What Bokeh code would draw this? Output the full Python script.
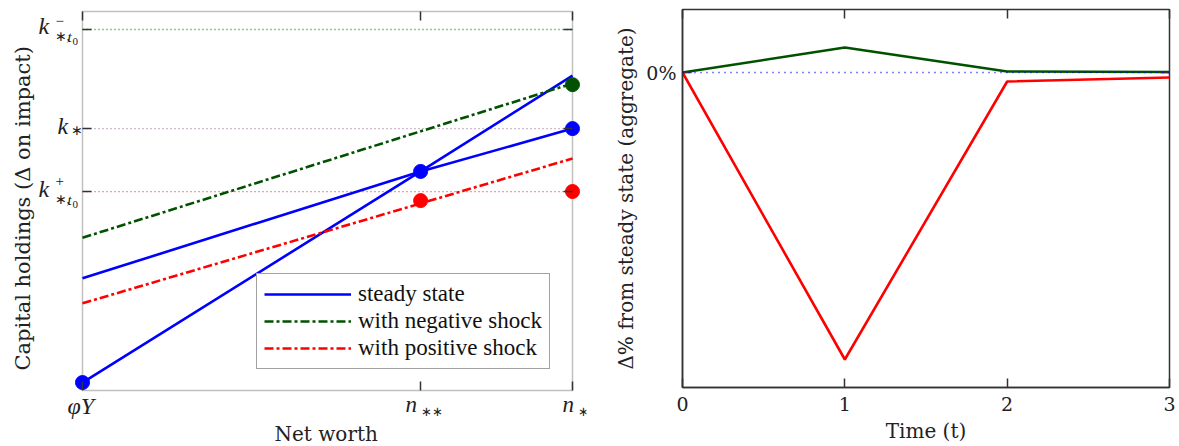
from bokeh.plotting import figure
from bokeh.models import (Range1d, FixedTicker, Legend, LegendItem, LinearAxis,
                          BoxAnnotation, ColumnDataSource, Title, Span)
from bokeh.core.properties import value
from bokeh.layouts import row
from bokeh.embed import file_html
from bokeh.resources import INLINE

# ---------------- data: left panel ----------------
nw_x = [0.0, 0.69, 1.0]                 # phiY, n**, n*
ss_steep = [0.021, 0.578, 0.831]
ss_flat = [0.296, 0.578, 0.691]
neg_x = [0.0, 1.0]
neg_y = [0.403, 0.810]
pos_x = [0.0, 1.0]
pos_y = [0.230, 0.612]
blue_dot_y = [0.021, 0.578, 0.691]
green_dot_x = [1.0]
green_dot_y = [0.807]
red_dot_x = [0.69, 1.0]
red_dot_y = [0.501, 0.525]
k_levels = [0.9525, 0.691, 0.525]       # k-_{*,t0}, k_*, k+_{*,t0}
k_level_colors = ["#2e8b2e", "#9a7a9a", "#ff3030"]

# ---------------- data: right panel ----------------
t = [0, 1, 2, 3]
agg_neg = [0.0, 2.5, 0.1, 0.05]
agg_pos = [0.0, -28.7, -0.9, -0.5]
t_ticks = [0, 1, 2, 3]

FONT = "Liberation Serif"
AFONT = "DejaVu Serif"
AX = "#333333"
TXT = "#222222"
BLUE = "#0000ff"
GREEN = "#005200"
RED = "#ff0000"

# pixel geometry of the left panel (layout only)
PXX, PXY = 490.0, 379.0
EXT_L, EXT_R, EXT_T, EXT_B = 48, 14, 2, 29


def tick_axis(ax, ticks, loc):
    ax.ticker = FixedTicker(ticks=ticks)
    ax.fixed_location = loc
    ax.axis_line_color = None
    ax.major_tick_line_color = AX
    ax.major_tick_line_width = 1.5
    ax.major_tick_in = 9
    ax.major_tick_out = 0
    ax.minor_tick_line_color = None
    ax.major_label_overrides = {v: "" for v in ticks}
    ax.major_label_text_font_size = "1px"
    ax.major_label_standoff = 0


# ================= left figure =================
p1 = figure(frame_width=int(PXX + EXT_L + EXT_R), frame_height=int(PXY + EXT_T + EXT_B),
            output_backend="svg", toolbar_location=None,
            x_range=Range1d(-EXT_L / PXX, 1 + EXT_R / PXX),
            y_range=Range1d(-EXT_B / PXY, 1 + EXT_T / PXY),
            min_border_left=34, min_border_right=4, min_border_top=7, min_border_bottom=28)
p1.outline_line_color = None
p1.grid.visible = False
tick_axis(p1.xaxis[0], nw_x, 0)
tick_axis(p1.yaxis[0], k_levels, 0)
ax_r = LinearAxis()
ax_t = LinearAxis()
tick_axis(ax_r, k_levels, 1)
tick_axis(ax_t, nw_x, 1)
p1.add_layout(ax_r, "right")
p1.add_layout(ax_t, "above")

p1.add_layout(BoxAnnotation(left=nw_x[0], right=nw_x[-1], bottom=0, top=1,
                            fill_alpha=0, line_color=AX, line_width=1.5, level="underlay"))

p1.segment(x0=[nw_x[0]] * 3, x1=[nw_x[-1]] * 3, y0=k_levels, y1=k_levels,
           line_color=k_level_colors, line_width=1.3, line_dash="1 3")

r_ss = p1.line(nw_x, ss_steep, line_color=BLUE, line_width=2.6)
p1.line(nw_x, ss_flat, line_color=BLUE, line_width=2.6)
r_neg = p1.line(neg_x, neg_y, line_color=GREEN, line_width=2.6, line_dash="9 3 3 3")
r_pos = p1.line(pos_x, pos_y, line_color=RED, line_width=2.6, line_dash="9 3 3 3")
p1.scatter(nw_x, blue_dot_y, size=14, color=BLUE)
p1.scatter(green_dot_x, green_dot_y, size=14, color=GREEN)
p1.scatter(red_dot_x, red_dot_y, size=14, color=RED)

legend = Legend(items=[LegendItem(label="steady state", renderers=[r_ss]),
                       LegendItem(label="with negative shock", renderers=[r_neg]),
                       LegendItem(label="with positive shock", renderers=[r_pos])],
                location=(222, 50), label_text_font=FONT, label_text_font_size="23px",
                label_text_color="#111111", glyph_width=87, glyph_height=22,
                label_height=22, spacing=1, padding=7, margin=0,
                border_line_color="#444444", border_line_width=1.2,
                label_standoff=7, background_fill_alpha=1)
p1.add_layout(legend, "center")

# tick labels made of text pieces (main symbol + sub/superscripts)
kx = [nw_x[0]] * 10
ky = [k_levels[0]] * 4 + [k_levels[1]] * 2 + [k_levels[2]] * 4
ktext = ["k", "\u2212", "\u2217,", "t", "k", "\u2217", "k", "+", "\u2217,", "t"]
kdx = [-44, -27, -28, -15, -25, -12, -44, -27, -28, -15]
kdy = [-4, -9, 7, 7, -3, 2, -3, -11, 8, 8]
ksize = ["24px", "15px", "14px", "15px", "24px", "14px", "24px", "15px", "14px", "15px"]
kstyle = ["italic", "normal", "normal", "italic", "italic", "normal", "italic", "normal", "normal", "italic"]
# t0 subscript zeros
zx = [nw_x[0]] * 2
zy = [k_levels[0], k_levels[2]]
ztext = ["0", "0"]
zdx = [-10, -10]
zdy = [12, 13]
zsize = ["11px", "11px"]
zstyle = ["normal", "normal"]

nx = [nw_x[0], nw_x[1], nw_x[1], nw_x[2], nw_x[2]]
ny = [0] * 5
ntext = ["\u03c6Y", "n", "\u2217\u2217", "n", "\u2217"]
ndx = [-15, -15, 0, -10, 5]
ndy = [15, 14, 21, 14, 21]
nsize = ["24px", "23px", "13px", "23px", "13px"]
nstyle = ["italic", "italic", "normal", "italic", "normal"]

lab = ColumnDataSource(dict(x=kx + zx + nx, y=ky + zy + ny, text=ktext + ztext + ntext,
                            dx=kdx + zdx + ndx, dy=kdy + zdy + ndy,
                            size=ksize + zsize + nsize, style=kstyle + zstyle + nstyle))
p1.text(x="x", y="y", text="text", x_offset="dx", y_offset="dy", source=lab,
        text_font=value(FONT), text_font_size="size", text_font_style="style",
        text_color=TXT, text_align="left", text_baseline="middle")

p1.add_layout(Title(text="Capital holdings (\u0394 on impact)", align="left", offset=49,
                    standoff=0, text_font=AFONT, text_font_size="21px",
                    text_font_style="normal", text_color=TXT), "left")
p1.add_layout(Title(text="Net worth", align="left", offset=240, standoff=0,
                    text_font=AFONT, text_font_size="20px", text_font_style="normal",
                    text_color=TXT), "below")

# ================= right figure =================
p2 = figure(frame_width=487, frame_height=378, output_backend="svg", toolbar_location=None,
            x_range=Range1d(0, 3), y_range=Range1d(-31.5, 6.3),
            min_border_left=92, min_border_right=8, min_border_top=9, min_border_bottom=58)
p2.outline_line_color = AX
p2.outline_line_width = 1.5
p2.grid.visible = False
p2.xaxis.ticker = FixedTicker(ticks=t_ticks)
p2.yaxis.ticker = FixedTicker(ticks=[0])
p2.yaxis.major_label_overrides = {0: "0%"}
p2.xaxis.axis_label = "Time (t)"
p2.yaxis.axis_label = "\u0394% from steady state (aggregate)"
for ax in p2.axis:
    ax.axis_line_color = AX
    ax.axis_line_width = 1.5
    ax.major_tick_line_color = AX
    ax.major_tick_line_width = 1.5
    ax.major_tick_in = 9
    ax.major_tick_out = 0
    ax.minor_tick_line_color = None
    ax.major_label_text_font = AFONT
    ax.major_label_text_font_size = "19px"
    ax.major_label_text_color = TXT
    ax.axis_label_text_font = AFONT
    ax.axis_label_text_font_size = "20px"
    ax.axis_label_text_font_style = "normal"
    ax.axis_label_text_color = TXT
p2.xaxis.major_label_standoff = 9
p2.yaxis.major_label_standoff = 6
p2.xaxis.axis_label_standoff = 5
p2.yaxis.axis_label_standoff = 5
ax_r2 = LinearAxis()
ax_t2 = LinearAxis()
tick_axis(ax_r2, [0], None)
tick_axis(ax_t2, t_ticks, None)
p2.add_layout(ax_r2, "right")
p2.add_layout(ax_t2, "above")

p2.add_layout(Span(location=0, dimension="width", line_color=BLUE,
                   line_width=1.5, line_dash="1 5"))
p2.line(t, agg_neg, line_color=GREEN, line_width=2.6)
p2.line(t, agg_pos, line_color=RED, line_width=2.6)

layout = row(p1, p2, spacing=0)
open("out.html", "w").write(file_html(layout, INLINE))
